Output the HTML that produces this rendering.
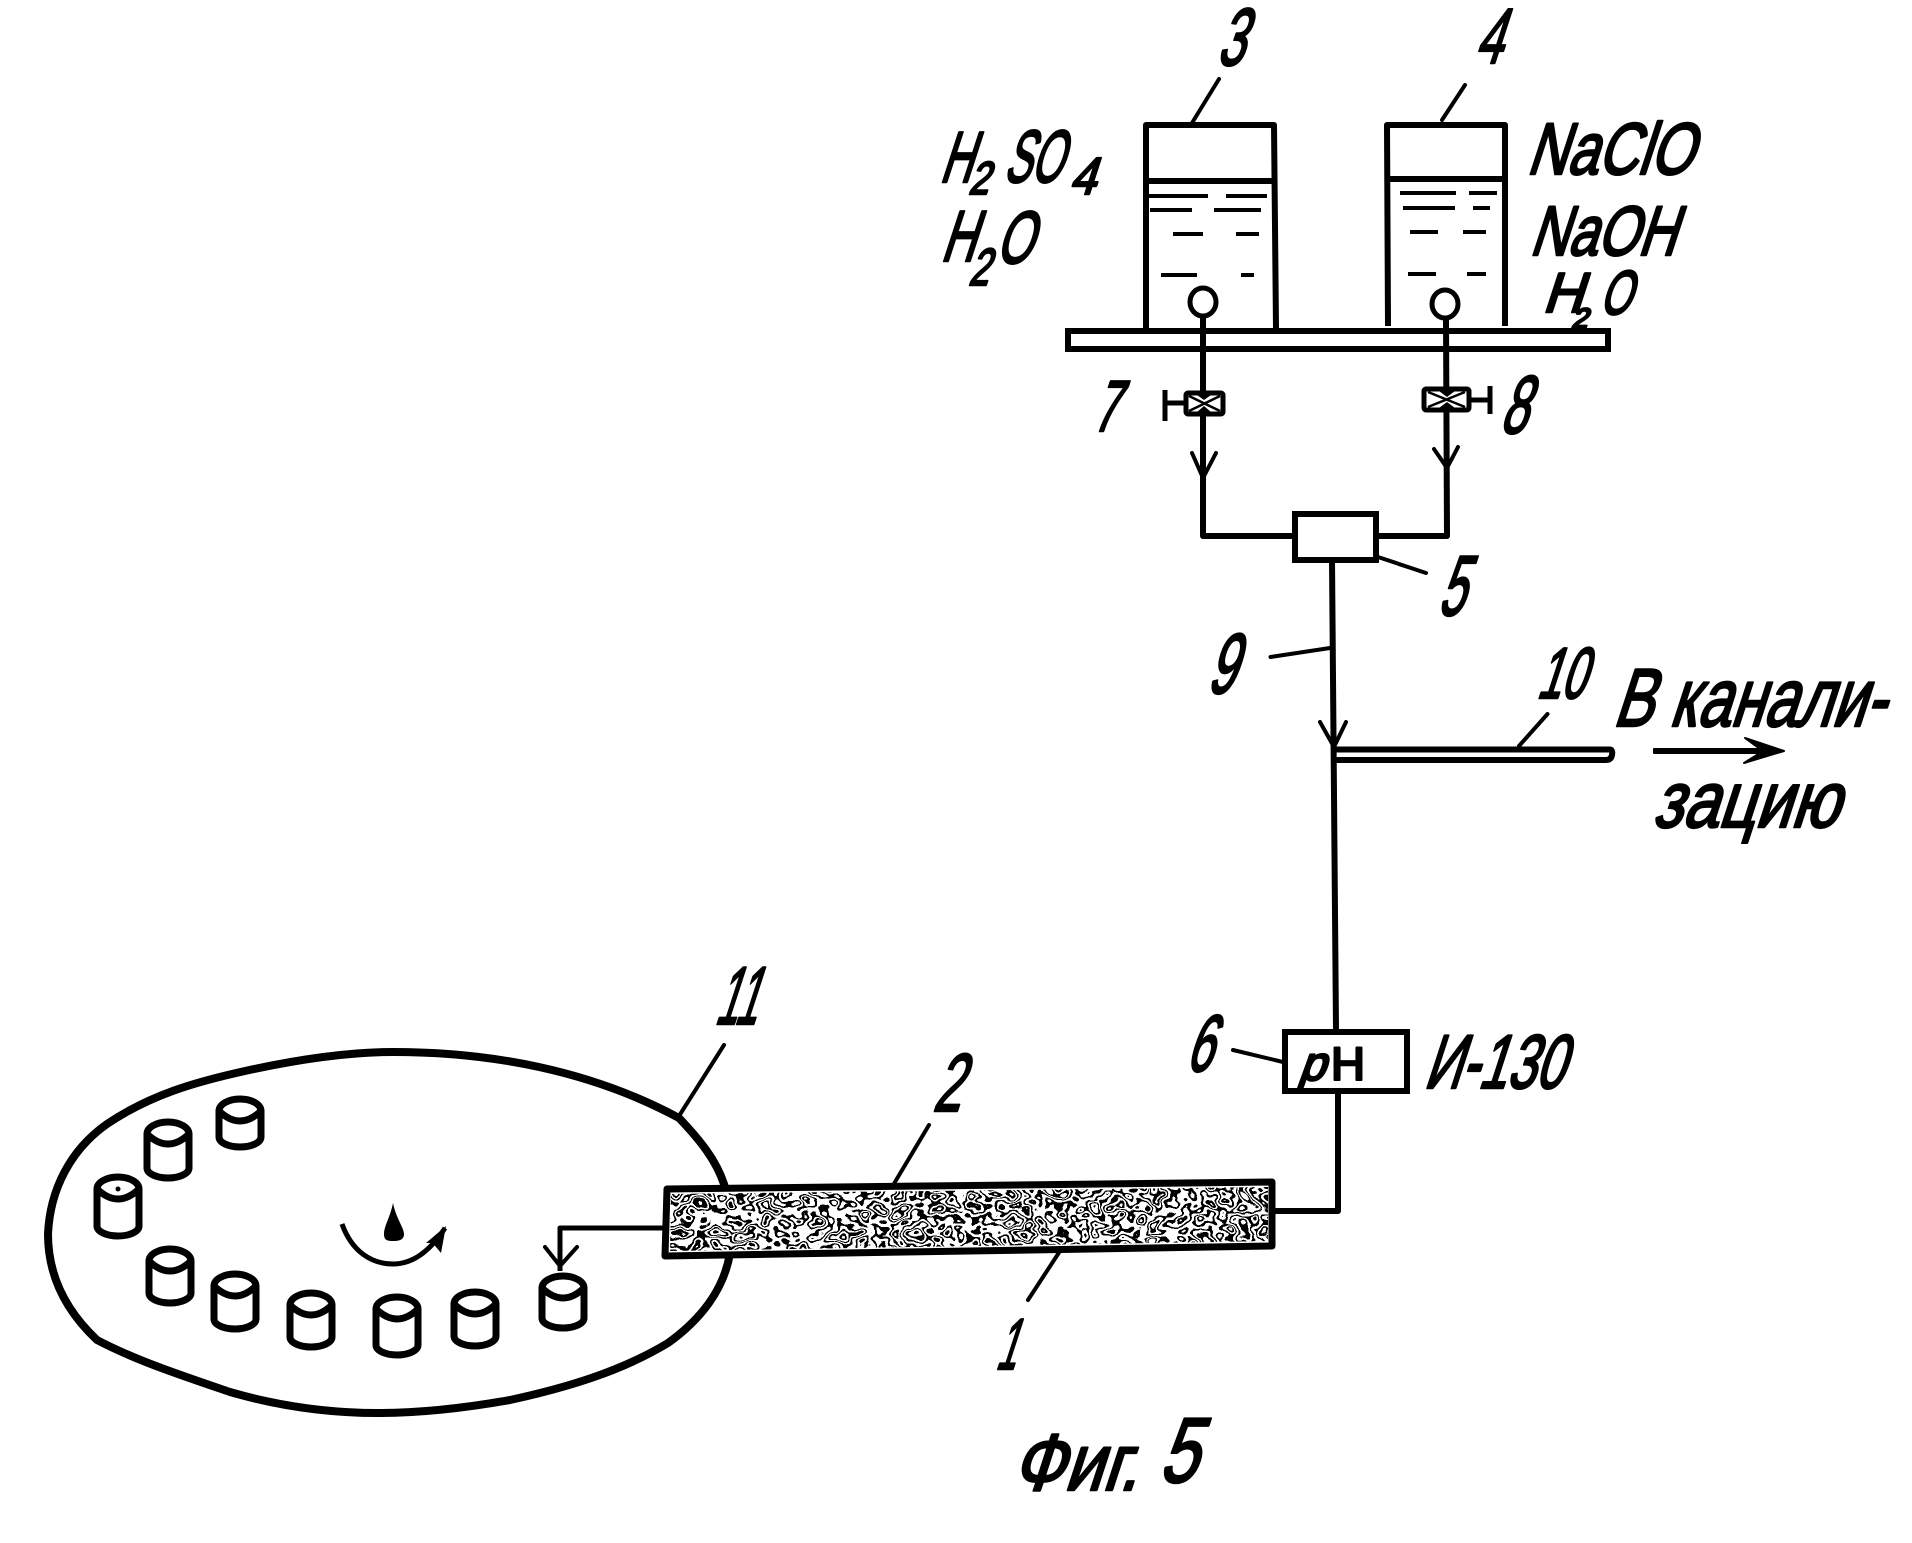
<!DOCTYPE html>
<html lang="ru"><head><meta charset="utf-8"><title>Фиг. 5</title>
<style>
html,body{margin:0;padding:0;background:#fff}
svg{display:block}
text{font-family:"Liberation Sans",sans-serif;fill:#000;stroke:#000;stroke-width:2.6;stroke-linejoin:round}
.l{fill:none;stroke:#000;stroke-width:6;stroke-linejoin:round;stroke-linecap:butt}
.n{fill:none;stroke:#000;stroke-width:4;stroke-linecap:round;stroke-linejoin:round}
.d{fill:none;stroke:#000;stroke-width:4}
.c{fill:#fff;stroke:#000;stroke-width:7;stroke-linejoin:round}
</style></head><body>
<svg xmlns="http://www.w3.org/2000/svg" width="1912" height="1543" viewBox="0 0 1912 1543">
<defs>
<filter id="tx" x="0" y="0" width="1" height="1" color-interpolation-filters="sRGB">
<feTurbulence type="fractalNoise" baseFrequency="0.055 0.07" numOctaves="2" seed="7" result="n"/>
<feColorMatrix in="n" type="matrix" values="0 0 0 0 0  0 0 0 0 0  0 0 0 0 0  1 0 0 0 0" result="a"/>
<feComponentTransfer in="a" result="b"><feFuncA type="discrete" tableValues="0 0 0 0 1 1 0 0 0 1 1 0 0 1 1 0 0 0 1 1 0 0 1 1 0 0 0 1 1 0 0 0"/></feComponentTransfer>
<feComposite in="b" in2="SourceAlpha" operator="in"/>
</filter>
</defs>
<rect width="1912" height="1543" fill="#fff"/>

<!-- tanks -->
<path class="l" d="M1146 328V125H1274L1276 328"/>
<path class="l" d="M1388 326L1387 125H1505V326"/>
<path class="l" d="M1147 181H1272M1389 179H1503"/>
<path class="d" d="M1148 196H1208M1226 196H1267M1150 210H1192M1214 210H1261M1173 234H1203M1236 234H1259M1161 275H1197M1241 275H1254"/>
<path class="d" d="M1400 193H1456M1469 193H1497M1403 208H1455M1473 208H1490M1410 232H1438M1463 232H1486M1408 274H1436M1467 274H1486"/>
<!-- shelf -->
<rect x="1068" y="331" width="540" height="18" fill="#fff" stroke="#000" stroke-width="6"/>
<!-- float circles and pipes -->
<ellipse cx="1203" cy="302" rx="13" ry="14" fill="#fff" stroke="#000" stroke-width="5"/>
<ellipse cx="1445" cy="304" rx="13" ry="14" fill="#fff" stroke="#000" stroke-width="5"/>
<path class="l" d="M1203 316V536H1294M1446 318L1447 536H1376"/>
<!-- valves -->
<rect x="1186" y="393" width="37" height="21" rx="2" fill="#fff" stroke="#000" stroke-width="5"/>
<path d="M1189 396L1220 411M1220 396L1189 411" fill="none" stroke="#000" stroke-width="2.5"/>
<path d="M1197 395L1204 400L1211 395ZM1197 412L1204 406L1211 412Z" fill="#000"/>
<path class="l" style="stroke-width:5" d="M1186 403H1165M1165 390V421"/>
<rect x="1424" y="389" width="45" height="21" rx="2" fill="#fff" stroke="#000" stroke-width="5"/>
<path d="M1428 392L1465 407M1465 392L1428 407" fill="none" stroke="#000" stroke-width="2.5"/>
<path d="M1439 391L1447 397L1455 391ZM1439 408L1447 402L1455 408Z" fill="#000"/>
<path class="l" style="stroke-width:5" d="M1469 400H1490M1490 386V414"/>
<!-- arrows -->
<path class="n" d="M1192 453L1203 478L1216 453M1434 449L1447 468L1458 447"/>
<!-- mixer 5 -->
<rect x="1295" y="514" width="81" height="46" fill="#fff" stroke="#000" stroke-width="6"/>
<path class="l" d="M1332 560L1336 1030"/>
<path class="n" d="M1378 557L1426 573M1219 79L1192 123M1465 85L1442 120"/>
<path class="n" d="M1270.5 657L1330 648M1547.500 714L1519 746M1233 1050L1283 1062"/>
<!-- branch 10 -->
<path class="n" d="M1320 722L1334 747L1346 722"/>
<path class="l" d="M1336 749.500H1610Q1613 750 1612 755Q1611 760 1606 760H1336"/>
<!-- outlet arrow -->
<path d="M1654 749H1760L1745 738L1784 751L1744 763L1760 753H1654Z" fill="#000" stroke="#000" stroke-width="2" stroke-linejoin="round"/>
<!-- pH -->
<rect x="1285" y="1032" width="122" height="59" fill="#fff" stroke="#000" stroke-width="6"/>
<path class="l" d="M1338 1093V1211H1272"/>

<!-- carousel blob -->
<path d="M393 1052C490 1052 590 1070 679 1118C700 1140 716 1160 724 1184C732 1210 733 1230 730 1253C724 1290 700 1320 668 1343C620 1372 565 1388 510 1400C465 1408 420 1413 378 1413C325 1413 275 1405 230 1392C180 1375 135 1360 97 1340C65 1310 48 1275 48 1234C50 1190 70 1150 107 1124C150 1095 195 1082 245 1071C295 1060 345 1052 393 1052Z" fill="none" stroke="#000" stroke-width="8"/>
<path class="n" d="M724 1045L679 1116M929 1125L892 1187M1060 1251L1028 1300"/>

<!-- cylinders -->
<g class="c">
<path transform="translate(240 1096)" d="M-21 15A21 12 0 0 1 21 15V41A21 10 0 0 1 -21 41ZM-21 15Q0 35 21 15"/>
<path transform="translate(168 1119)" d="M-21 15A21 12 0 0 1 21 15V49A21 10 0 0 1 -21 49ZM-21 15Q0 35 21 15"/>
<path transform="translate(118 1174)" d="M-21 15A21 12 0 0 1 21 15V52A21 10 0 0 1 -21 52ZM-21 15Q0 35 21 15"/>
<path transform="translate(170 1246)" d="M-21 15A21 12 0 0 1 21 15V47A21 10 0 0 1 -21 47ZM-21 15Q0 35 21 15"/>
<path transform="translate(235 1271)" d="M-21 15A21 12 0 0 1 21 15V48A21 10 0 0 1 -21 48ZM-21 15Q0 35 21 15"/>
<path transform="translate(311 1290)" d="M-21 15A21 12 0 0 1 21 15V47A21 10 0 0 1 -21 47ZM-21 15Q0 35 21 15"/>
<path transform="translate(397 1294)" d="M-21 15A21 12 0 0 1 21 15V51A21 10 0 0 1 -21 51ZM-21 15Q0 35 21 15"/>
<path transform="translate(475 1289)" d="M-21 15A21 12 0 0 1 21 15V47A21 10 0 0 1 -21 47ZM-21 15Q0 35 21 15"/>
<path transform="translate(563 1273)" d="M-21 15A21 12 0 0 1 21 15V45A21 10 0 0 1 -21 45ZM-21 15Q0 35 21 15"/>
</g>
<circle cx="118" cy="1189" r="2.500" fill="#000"/>
<!-- drop + rotation arrow -->
<path d="M393 1203C396 1218 404 1228 404 1234C404 1240 399 1241 393 1241C387 1241 384 1240 384 1234C384 1226 390 1218 393 1203Z" fill="#000"/>
<path class="l" style="stroke-width:5" d="M342 1224C352 1252 372 1264 393 1264C415 1264 432 1248 445 1228"/>
<path d="M446 1226L426 1243L433 1243L436 1247L441 1253Z" fill="#000"/>
<!-- feed into cylinder -->
<path class="l" style="stroke-width:5" d="M666 1228H560V1271"/>
<path class="n" d="M545 1247L560 1266L577 1247"/>

<!-- packed bed -->
<path d="M667 1189L1272 1182L1272 1246L665 1256Z" fill="#fff" stroke="#000" stroke-width="7" stroke-linejoin="round"/>
<path d="M671 1194L1268 1187L1268 1241L670 1251Z" fill="#000" filter="url(#tx)"/>

<!-- labels -->
<text transform="translate(1216 65) skewX(-18)" font-size="81" textLength="27" lengthAdjust="spacingAndGlyphs">3</text>
<text transform="translate(1474 63) skewX(-18)" font-size="78" textLength="27" lengthAdjust="spacingAndGlyphs">4</text>
<text transform="translate(939 182) skewX(-18)" font-size="72" textLength="32" lengthAdjust="spacingAndGlyphs">H</text>
<text transform="translate(968 194) skewX(-18)" font-size="46" textLength="20" lengthAdjust="spacingAndGlyphs">2</text>
<text transform="translate(1003 182) skewX(-18)" font-size="74" textLength="58" lengthAdjust="spacingAndGlyphs">SO</text>
<text transform="translate(1069 194) skewX(-18)" font-size="52" textLength="26" lengthAdjust="spacingAndGlyphs">4</text>
<text transform="translate(940 261) skewX(-18)" font-size="72" textLength="34" lengthAdjust="spacingAndGlyphs">H</text>
<text transform="translate(968 285) skewX(-18)" font-size="52" textLength="20" lengthAdjust="spacingAndGlyphs">2</text>
<text transform="translate(995 263) skewX(-18)" font-size="74" textLength="36" lengthAdjust="spacingAndGlyphs">O</text>
<text transform="translate(1526 174) skewX(-18)" font-size="73" textLength="166" lengthAdjust="spacingAndGlyphs">NaClO</text>
<text transform="translate(1529 255) skewX(-18)" font-size="70" textLength="146" lengthAdjust="spacingAndGlyphs">NaOH</text>
<text transform="translate(1542 312) skewX(-18)" font-size="56" textLength="40" lengthAdjust="spacingAndGlyphs">H</text>
<text transform="translate(1571 328) skewX(-18)" font-size="28" textLength="16" lengthAdjust="spacingAndGlyphs">2</text>
<text transform="translate(1599 314) skewX(-18)" font-size="62" textLength="31" lengthAdjust="spacingAndGlyphs">O</text>
<text transform="translate(1092 431) skewX(-18)" font-size="72" textLength="24" lengthAdjust="spacingAndGlyphs">7</text>
<text transform="translate(1499 433) skewX(-18)" font-size="82" textLength="27" lengthAdjust="spacingAndGlyphs">8</text>
<text transform="translate(1437 615) skewX(-18)" font-size="85" textLength="26" lengthAdjust="spacingAndGlyphs">5</text>
<text transform="translate(1206 693) skewX(-18)" font-size="85" textLength="28" lengthAdjust="spacingAndGlyphs">9</text>
<text transform="translate(1536 698) skewX(-18)" font-size="72" textLength="48" lengthAdjust="spacingAndGlyphs">10</text>
<text transform="translate(1612 726) skewX(-18)" font-size="82" textLength="272" lengthAdjust="spacingAndGlyphs">В канали-</text>
<text transform="translate(1652 827) skewX(-18)" font-size="79" textLength="186" lengthAdjust="spacingAndGlyphs">зацию</text>
<text transform="translate(1298 1080) skewX(-20)" font-size="48" textLength="26" lengthAdjust="spacingAndGlyphs">p</text>
<text transform="translate(1331 1080)" font-size="46" textLength="34" lengthAdjust="spacingAndGlyphs">H</text>
<text transform="translate(1423 1088) skewX(-18)" font-size="76" textLength="140" lengthAdjust="spacingAndGlyphs">И-130</text>
<text transform="translate(1185 1071) skewX(-18)" font-size="80" textLength="26" lengthAdjust="spacingAndGlyphs">6</text>
<text transform="translate(714 1024) skewX(-18)" font-size="82" textLength="42" lengthAdjust="spacingAndGlyphs">11</text>
<text transform="translate(932 1111) skewX(-18)" font-size="82" textLength="28" lengthAdjust="spacingAndGlyphs">2</text>
<text transform="translate(995 1369) skewX(-18)" font-size="72" textLength="20" lengthAdjust="spacingAndGlyphs">1</text>
<text transform="translate(1011 1490) skewX(-18)" font-size="80" textLength="126" lengthAdjust="spacingAndGlyphs">Фиг.</text>
<text transform="translate(1158 1482) skewX(-18)" font-size="92" textLength="38" lengthAdjust="spacingAndGlyphs">5</text>
</svg>
</body></html>
